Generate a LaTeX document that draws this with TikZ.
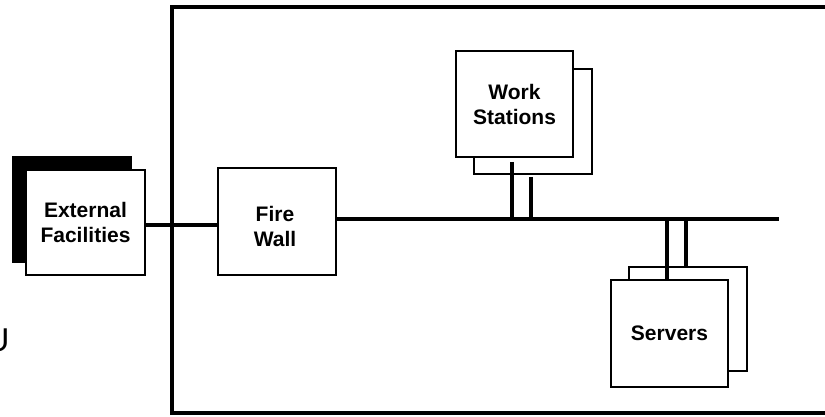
\documentclass[tikz,border=0pt]{standalone}
\usepackage{fontspec}
\setmainfont{Liberation Sans}
\begin{document}
\begin{tikzpicture}[x=1pt,y=-1pt,
  box/.style={draw=black, line width=2.5pt, fill=white, rectangle, inner sep=0pt},
  shadowbox/.style={fill=black, rectangle, inner sep=0pt},
  lbl/.style={font=\fontsize{21}{25}\selectfont\bfseries, align=center, inner sep=0pt},
  wire/.style={line width=4pt},
  frame/.style={line width=4pt}]
\useasboundingbox (0,0) rectangle (825,417);
% outer frame
\draw[frame] (835,7) -- (172,7) -- (172,413) -- (835,413);
% partial letter at left edge
\node[font=\fontsize{33}{36}\selectfont, inner sep=0pt] (u) at (-2.5,340) {U};
% External facilities
\node[shadowbox, minimum width=120pt, minimum height=107pt] (extsh) at (72,209.5) {};
\node[box, lbl, minimum width=119pt, minimum height=105pt] (ext) at (85.5,222.5) {External\\Facilities};
% Fire wall
\node[box, minimum width=118pt, minimum height=107pt] (fw) at (277,221.5) {};
\node[lbl] (fwtext) at (275,226.5) {Fire\\Wall};
% Work stations
\node[box, minimum width=118pt, minimum height=105pt] (wsb) at (533,121.5) {};
\node[box, lbl, minimum width=117pt, minimum height=106pt] (ws) at (514.5,104) {Work\\Stations};
% Servers
\node[box, minimum width=118pt, minimum height=104pt] (svb) at (688,319) {};
\node[box, lbl, minimum width=117pt, minimum height=107pt] (sv) at (669.5,333.5) {Servers};
% coordinates
\coordinate (busend) at (779,219);
\coordinate (extlink) at (0,225);
\coordinate (wsa) at (512,162);
\coordinate (wsc) at (531,177);
\coordinate (sva) at (667,219);
\coordinate (svc) at (686,219);
% connectors
\draw[wire] (ext.east |- extlink) -- (fw.west |- extlink);
\draw[wire] (fw.east |- busend) -- (busend);
\draw[wire] (wsa) -- (wsa |- busend);
\draw[wire] (wsc) -- (wsc |- busend);
\draw[wire] (sva) -- (sva |- sv.north);
\draw[wire] (svc) -- (svc |- svb.north);
\end{tikzpicture}
\end{document}
